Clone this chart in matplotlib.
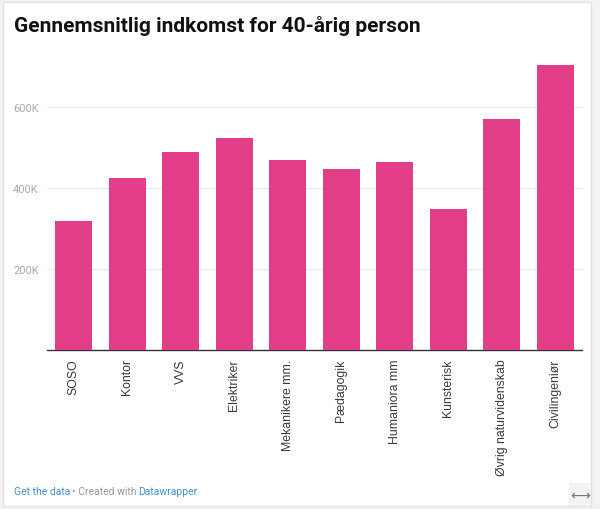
import matplotlib.pyplot as plt
from matplotlib.patches import Rectangle

# data (values in thousands)
categories = ["SOSO", "Kontor", "VVS", "Elektriker", "Mekanikere mm.", "Pædagogik",
              "Humaniora mm", "Kunsterisk", "Øvrig naturvidenskab", "Civilingeniør"]
income_k = [318, 424, 488, 524, 468, 446, 463, 347, 570, 702]
ytick_vals = [200, 400, 600]
ytick_labels = ["200K", "400K", "600K"]

title = "Gennemsnitlig indkomst for 40-årig person"
bar_color = "#e23e88"

fig = plt.figure(figsize=(6, 5.1), dpi=100)
fig.patch.set_facecolor("#f2f2f2")

# white card with light border
W, H = 600, 510
card = Rectangle((3 / W, 3 / H), (591 - 3) / W, (507 - 3) / H, transform=fig.transFigure,
                 facecolor="white", edgecolor="#e2e2e2", linewidth=1, zorder=-2)
fig.patches.append(card)
icon = Rectangle((569 / W, 3 / H), (591 - 569) / W, (507 - 484) / H, transform=fig.transFigure,
                 facecolor="#f3f3f3", edgecolor="none", zorder=-1)
fig.patches.append(icon)

ax = fig.add_axes([47 / W, 1 - 351 / H, (582 - 47) / W, (351 - 66) / H])
ax.set_facecolor("none")
x = range(len(categories))
ax.bar(x, income_k, width=0.69, color=bar_color, zorder=3)
ax.set_xlim(-0.5, len(categories) - 0.5)
ax.set_ylim(0, 703)

ax.set_yticks(ytick_vals)
ax.set_yticklabels(ytick_labels, fontsize=8, color="#aaaaaa", family="Roboto")
ax.tick_params(axis="y", length=0, pad=6)
ax.grid(axis="y", color="#ececec", linewidth=1, zorder=0)

ax.set_xticks(list(x))
ax.set_xticklabels(categories, rotation=90, fontsize=8.8, color="#3a3a3a",
                   family="Liberation Sans", va="top")
ax.tick_params(axis="x", length=0, pad=6)

for side in ["top", "right", "left"]:
    ax.spines[side].set_visible(False)
ax.spines["bottom"].set_color("#333333")
ax.spines["bottom"].set_linewidth(1)

fig.text(14 / W, 1 - 26 / H, title, fontsize=15, fontweight="bold", family="Roboto",
         color="#111111", va="center", ha="left")

# footer
t1 = fig.text(14 / W, 1 - 492 / H, "Get the data", fontsize=7.5, family="Roboto",
              color="#4a8fc7", va="center", ha="left")
fig.canvas.draw()
r = fig.canvas.get_renderer()
bb = t1.get_window_extent(r)
t2 = fig.text((bb.x1 + 2) / W, 1 - 492 / H, "• Created with", fontsize=7.5, family="Roboto",
              color="#999999", va="center", ha="left")
bb2 = t2.get_window_extent(r)
fig.text((bb2.x1 + 1) / W, 1 - 492 / H, "Datawrapper", fontsize=7.5, family="Roboto",
         color="#4a8fc7", va="center", ha="left")

fig.text(580 / W, 1 - 496 / H, "⟷", fontsize=10, family="DejaVu Sans", color="#777777",
         va="center", ha="center")

fig.savefig("out.png", dpi=100, facecolor=fig.get_facecolor())
